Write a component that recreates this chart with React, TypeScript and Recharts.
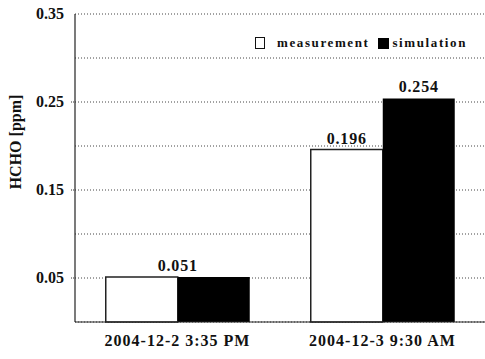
import React from 'react';
import { BarChart, Bar, XAxis, YAxis, CartesianGrid, Legend, LabelList } from 'recharts';

const categories = ['2004-12-2 3:35 PM', '2004-12-3 9:30 AM'];
const measurement = [0.051, 0.196];
const simulation = [0.051, 0.254];
// the first pair shares one label, centred over the group
const measurementLabels = ['0.051', '0.196'];
const simulationLabels = ['', '0.254'];
const yTicks = [0, 0.05, 0.1, 0.15, 0.2, 0.25, 0.3, 0.35];
const yTickLabels = ['', '0.05', '', '0.15', '', '0.25', '', '0.35'];

const FONT = '"Liberation Serif", "Times New Roman", serif';

const rows = categories.map((c, i) => ({
  time: c,
  measurement: measurement[i],
  simulation: simulation[i],
}));

const seriesInfo = [
  { name: 'measurement', fill: '#FFFFFF' },
  { name: 'simulation', fill: '#000000' },
];

function XTick(props: any) {
  const { x, y, payload } = props;
  return (
    <text x={x} y={y + 24} textAnchor="middle" fontFamily={FONT} fontWeight={700} fontSize={16} letterSpacing={1} fill="#111">
      {payload.value}
    </text>
  );
}

function YTick(props: any) {
  const { x, y, index } = props;
  const label = yTickLabels[index] ?? '';
  if (!label) return null;
  return (
    <g>
      {label !== '0.35' && (
        <line x1={x - 4} x2={x} y1={y} y2={y} stroke="#333" strokeDasharray="1 1" />
      )}
      <text x={x - 11} y={y + 5} textAnchor="end" fontFamily={FONT} fontWeight={700} fontSize={16} fill="#111">
        {label}
      </text>
    </g>
  );
}

function makeValueLabel(labels: string[], other: string[]) {
  return (props: any) => {
    const { x, y, width, index } = props;
    const text = labels[index];
    if (!text) return null;
    const cx = other[index] ? x + width / 2 : x + width;
    return (
      <text x={cx} y={y - 6} textAnchor="middle" fontFamily={FONT} fontWeight={700} fontSize={16} letterSpacing={0.8} fill="#111">
        {text}
      </text>
    );
  };
}

function LegendBox() {
  return (
    <div style={{ display: 'flex', alignItems: 'center', fontFamily: FONT, fontWeight: 700, fontSize: 13, letterSpacing: 1.6, color: '#111', whiteSpace: 'nowrap' }}>
      {seriesInfo.map((s, i) => (
        <div key={s.name} style={{ display: 'flex', alignItems: 'center', marginRight: i === 0 ? 9 : 0 }}>
          <div
            style={{
              width: i === 0 ? 8 : 11,
              height: i === 0 ? 10 : 11,
              background: s.fill,
              border: i === 0 ? '1px solid #111' : 'none',
              marginRight: i === 0 ? 12 : 3,
            }}
          />
          <span>{s.name}</span>
        </div>
      ))}
    </div>
  );
}

export default function App() {
  return (
    <div style={{ position: 'absolute', left: 0, top: 0, width: 485, height: 359, background: '#fff' }}>
      <BarChart
        width={485}
        height={359}
        data={rows}
        margin={{ top: 14, right: 0, bottom: 0, left: 0 }}
        barCategoryGap="15%"
        barGap={0}
      >
        <CartesianGrid vertical={false} stroke="#444" strokeDasharray="1 2" />
        <XAxis
          dataKey="time"
          height={37}
          interval={0}
          tickSize={0}
          tickMargin={0}
          tickLine={false}
          axisLine={{ stroke: '#222', strokeWidth: 1.2 }}
          tick={<XTick />}
        />
        <YAxis
          width={75}
          domain={[0, 0.35]}
          ticks={yTicks}
          interval={0}
          tickSize={0}
          tickMargin={0}
          tickLine={false}
          axisLine={{ stroke: '#222', strokeWidth: 1.2 }}
          tick={<YTick />}
          label={() => (
            <text
              x={15}
              y={142}
              transform="rotate(-90 15 142)"
              textAnchor="middle"
              dominantBaseline="central"
              fontFamily={FONT}
              fontWeight={700}
              fontSize={16}
              fill="#111"
            >
              HCHO [ppm]
            </text>
          )}
        />
        <Legend
          layout="horizontal"
          verticalAlign="middle"
          align="center"
          content={() => <LegendBox />}
          wrapperStyle={{ position: 'absolute', top: 35, left: 255, width: 'auto' }}
        />
        <Bar dataKey="measurement" name="measurement" fill="#FFFFFF" stroke="#222" strokeWidth={1.5} isAnimationActive={false}>
          <LabelList dataKey="measurement" content={makeValueLabel(measurementLabels, simulationLabels)} />
        </Bar>
        <Bar dataKey="simulation" name="simulation" fill="#000000" isAnimationActive={false}>
          <LabelList dataKey="simulation" content={makeValueLabel(simulationLabels, measurementLabels)} />
        </Bar>
      </BarChart>
    </div>
  );
}
